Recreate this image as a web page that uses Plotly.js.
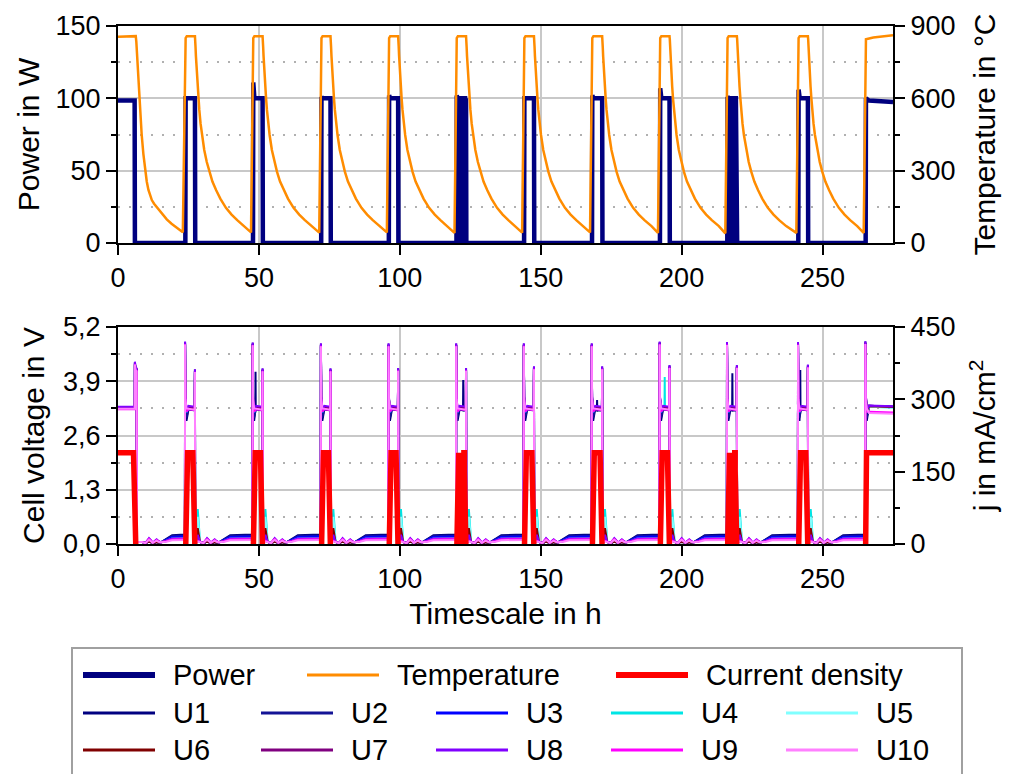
<!DOCTYPE html>
<html><head><meta charset="utf-8">
<script src="https://cdn.plot.ly/plotly-3.0.1.min.js"></script>
<style>html,body{margin:0;padding:0;background:#fff;}#chart{width:1013px;height:774px;}</style>
</head><body><div id="chart"></div>
<script>
// ===================== DATA =====================
// Cycle switching times (h)
const cycleOn  = [23.8, 47.8, 72.0, 96.0, 120.0, 144.0, 168.1, 192.2, 216.1, 241.3, 265.2];
const cycleOff = [27.3, 51.3, 75.4, 99.4, 123.5, 147.6, 171.8, 195.7, 219.6, 244.8];
const denseCycleIndex  = [4, 8];
const denseToggleDelta = [0.8, 1.1, 1.4, 1.7, 2.0, 2.3, 2.6, 2.9, 3.2];

// Temperature (°C)
const tempStartHours  = [0, 3.0, 6.3];
const tempStartValues = [855, 857, 858];
const tempFirstDecayHours  = [6.5, 6.7, 6.9, 7.1, 7.4, 7.9, 8.4, 9.0, 9.6, 10.2, 10.8, 11.4, 12.0, 12.8, 13.7, 15.5, 17.3, 19.0, 20.8, 23.0];
const tempFirstDecayValues = [835, 790, 745, 695, 625, 530, 450, 370, 300, 255, 220, 195, 178, 163, 150, 122, 98, 80, 65, 45];
const tempHoldValue    = 858;
const tempRiseTopValue = 850;
const tempDecayDelta   = [0.1, 0.2, 0.35, 0.6, 0.95, 1.25, 1.55, 2.0, 2.5, 3.3, 4.2, 5.1, 6.2, 7.5, 9.0, 11.0, 13.0, 15.0, 17.5];
const tempDecayValues  = [845, 815, 775, 715, 648, 598, 552, 495, 448, 386, 336, 296, 255, 220, 184, 146, 118, 95, 70];
const tempMinValues    = [44, 43, 44, 42, 43, 44, 42, 40, 42, 42];
const tempEndHours  = [265.4, 268, 275];
const tempEndValues = [845, 852, 862];

// Power (W)
const powerStartHours  = [0, 5.9, 6.0];
const powerStartValues = [98.5, 98.5, 0];
const powerHoldValue   = 100;
const powerPeakValues  = [100, 111, 101, 102, 102, 100, 102, 107, 101, 106];
const powerEndHours  = [265.3, 265.4, 266.5, 275];
const powerEndValues = [0, 100, 98.5, 97.5];

// Current density (mA/cm²)
const currentHoldValue   = 189;
const currentStartHours  = [0, 5.5, 6.3];
const currentStartValues = [189, 189, 0];
const currentEndHours  = [265.3, 265.6, 275];
const currentEndValues = [0, 189, 189];

// Cell voltages (V)
const uNames      = ['U1','U2','U3','U4','U5','U6','U7','U8','U9','U10'];
const uStartLevel = [3.27, 3.27, 3.26, 3.25, 3.25, 3.26, 3.27, 3.29, 3.23, 3.24];
const uOnLevel    = [3.20, 3.23, 3.25, 3.24, 3.24, 3.25, 3.27, 3.29, 3.21, 3.22];
const uDipLevel   = [2.95, 3.03, 3.15, 3.16, 3.18, 3.18, 3.20, 3.22, 3.17, 3.25];
const uEndLevel   = [3.29, 3.29, 3.28, 3.27, 3.27, 3.28, 3.29, 3.30, 3.15, 3.12];
const uSpikeShift = [0.03, 0.00, -0.01, -0.05, -0.05, -0.04, 0.00, 0.04, -0.02, -0.03];
const uShutSpike  = [0.10, 0.10, 0.12, 0.84, 0.65, 0.38, 0.15, 0.22, 0.08, 0.06];
const uHump       = [0.06, 0.06, 0.07, 0.08, 0.08, 0.06, 0.12, 0.14, 0.12, 0.10];
const uRestLevel  = [0.21, 0.19, 0.17, 0.13, 0.12, 0.11, 0.12, 0.13, 0.11, 0.09];
const voltSpikeOn  = [4.81, 4.79, 4.77, 4.77, 4.77, 4.77, 4.77, 4.81, 4.80, 4.80, 4.82];
const voltSpikeOff = [4.15, 4.17, 4.17, 4.18, 4.18, 4.22, 4.22, 4.25, 4.25, 4.26];
const voltInitialHours  = [6.0, 6.2, 6.6, 6.7];
const voltInitialValues = [4.33, 4.20, 4.17, 0.05];
const u1MidSpikeHours  = [48.8, 122.5, 170.0, 218.0, 242.1];
const u1MidSpikeValues = [4.13, 3.93, 3.45, 4.09, 4.17];
const u4MidSpikeHours  = [194.0];
const u4MidSpikeValues = [4.0];
const restDelta = [0.5, 1.0, 1.8, 3.0, 3.7, 4.3, 4.9, 5.6, 6.4, 7.0, 7.6, 8.5, 10.5, 12.5];

// Axis tick labels
const timeTicks = [0, 50, 100, 150, 200, 250];
const voltTickVals = [0, 1.3, 2.6, 3.9, 5.2];
const voltTickText = ['0,0', '1,3', '2,6', '3,9', '5,2'];

// ===================== BUILD SERIES =====================
function tempSeries() {
  const x = [], y = [];
  const P = (t, v) => { x.push(t); y.push(v); };
  tempStartHours.forEach((h, i) => P(h, tempStartValues[i]));
  tempFirstDecayHours.forEach((h, i) => P(h, tempFirstDecayValues[i]));
  for (let k = 0; k < cycleOff.length; k++) {
    P(cycleOn[k] + 0.2, tempRiseTopValue);
    P(cycleOn[k] + 0.6, tempHoldValue);
    P(cycleOff[k], tempHoldValue);
    tempDecayDelta.forEach((d, i) => P(cycleOff[k] + d, tempDecayValues[i]));
    P(cycleOn[k + 1] - 0.6, tempMinValues[k]);
  }
  tempEndHours.forEach((h, i) => P(h, tempEndValues[i]));
  return {x, y};
}

function powerSeries() {
  const x = [], y = [];
  const P = (t, v) => { x.push(t); y.push(v); };
  powerStartHours.forEach((h, i) => P(h, powerStartValues[i]));
  for (let k = 0; k < cycleOff.length; k++) {
    const on = cycleOn[k], off = cycleOff[k];
    P(on + 0.1, 0); P(on + 0.2, powerPeakValues[k]); P(on + 0.6, powerHoldValue);
    if (denseCycleIndex.includes(k)) {
      denseToggleDelta.forEach(d => { P(on + d - 0.05, powerHoldValue); P(on + d, 0); P(on + d + 0.05, powerHoldValue); });
    }
    P(off, powerHoldValue); P(off + 0.1, 0);
  }
  powerEndHours.forEach((h, i) => P(h, powerEndValues[i]));
  return {x, y};
}

function currentSeries() {
  const x = [], y = [];
  const P = (t, v) => { x.push(t); y.push(v); };
  currentStartHours.forEach((h, i) => P(h, currentStartValues[i]));
  P(6.4, null);
  for (let k = 0; k < cycleOff.length; k++) {
    const on = cycleOn[k], off = cycleOff[k];
    P(on + 0.25, 0); P(on + 0.9, currentHoldValue);
    if (denseCycleIndex.includes(k)) {
      denseToggleDelta.slice(0, 7).forEach(d => { P(on + d + 0.1, currentHoldValue); P(on + d + 0.2, 0); P(on + d + 0.3, currentHoldValue); });
    }
    P(off - 0.75, currentHoldValue); P(off - 0.05, 0); P(off + 0.1, null);
  }
  currentEndHours.forEach((h, i) => P(h, currentEndValues[i]));
  return {x, y};
}

function voltSeries(i) {
  const pts = [];
  const P = (t, v) => pts.push([t, v]);
  const rest = (off, nextOn, withSpike) => {
    const r = uRestLevel[i], h = uHump[i];
    const vals = [0.05, withSpike ? uShutSpike[i] : 0.05, 0.05, 0.02, h * 0.7, h, h * 0.7, 0.03, h * 0.55, h * 0.8, h * 0.55, 0.04, r * 0.6, r];
    restDelta.forEach((d, j) => P(off + d, vals[j]));
    P(nextOn - 0.05, r * 1.08);
  };
  P(0, uStartLevel[i]); P(5.95, uStartLevel[i]);
  voltInitialHours.forEach((hh, j) => P(hh, j < 3 ? voltInitialValues[j] + uSpikeShift[i] : voltInitialValues[j]));
  rest(6.7, cycleOn[0], false);
  for (let k = 0; k < cycleOff.length; k++) {
    const on = cycleOn[k], off = cycleOff[k];
    P(on, voltSpikeOn[k] + uSpikeShift[i]);
    P(on + 0.12, uOnLevel[i] + 0.25);
    P(on + 0.5, uDipLevel[i]);
    P(on + 1.2, uOnLevel[i] + 0.02);
    P(off - 0.08, uOnLevel[i]);
    P(off, voltSpikeOff[k] + uSpikeShift[i]);
    P(off + 0.08, 0.04);
    rest(off, cycleOn[k + 1], true);
  }
  const on = cycleOn[cycleOn.length - 1];
  P(on, voltSpikeOn[cycleOn.length - 1] + uSpikeShift[i]);
  P(on + 0.15, uEndLevel[i] + 0.3);
  P(on + 0.5, uDipLevel[i]);
  P(on + 1.3, uEndLevel[i] + 0.02);
  P(275, uEndLevel[i]);
  const addSpikes = (hours, vals) => hours.forEach((hh, j) => { P(hh - 0.08, uOnLevel[i]); P(hh, vals[j]); P(hh + 0.08, uOnLevel[i]); });
  if (i === 0) addSpikes(u1MidSpikeHours, u1MidSpikeValues);
  if (i === 3) addSpikes(u4MidSpikeHours, u4MidSpikeValues);
  pts.sort((a, b) => a[0] - b[0]);
  return {x: pts.map(p => p[0]), y: pts.map(p => p[1])};
}

// ===================== STYLE =====================
const FONT = 'Arial, "Liberation Sans", sans-serif';
const uColors = ['#000080', '#141496', '#0000ff', '#00e5e5', '#80ffff', '#800000', '#800080', '#8000ff', '#ff00ff', '#ff80ff'];
const powerColor = '#00007f', tempColor = '#ff8c00', currentColor = '#ff0000';

const T = tempSeries(), Pw = powerSeries(), C = currentSeries();
const traces = [];
traces.push({x: Pw.x, y: Pw.y, name: 'Power', type: 'scatter', mode: 'lines', xaxis: 'x', yaxis: 'y',
  line: {color: powerColor, width: 4.5}, showlegend: false});
traces.push({x: T.x, y: T.y, name: 'Temperature', type: 'scatter', mode: 'lines', xaxis: 'x', yaxis: 'y2',
  line: {color: tempColor, width: 2.5}, showlegend: false});
uNames.forEach((n, i) => {
  const s = voltSeries(i);
  traces.push({x: s.x, y: s.y, name: n, type: 'scatter', mode: 'lines', xaxis: 'x2', yaxis: 'y3',
    line: {color: uColors[i], width: 2}, showlegend: false});
});
traces.push({x: C.x, y: C.y, name: 'Current density', type: 'scatter', mode: 'lines', xaxis: 'x2', yaxis: 'y4',
  line: {color: currentColor, width: 5.5}, connectgaps: false, showlegend: false});

const L = 118, R = 893, TOP = 26, BOT = 544, W = R - L, H = BOT - TOP;
const px = v => (v - L) / W, py = v => (BOT - v) / H;

const gridMajor = {showgrid: true, gridcolor: '#c8c8c8', gridwidth: 2};
const tickBase = {ticks: 'outside', ticklen: 10, tickwidth: 2, tickcolor: '#000', showline: true, linecolor: '#000', linewidth: 2,
  tickfont: {family: FONT, size: 27, color: '#000'}, zeroline: false};
const minorDot = (dt) => ({dtick: dt, ticks: 'outside', ticklen: 5, tickwidth: 2, tickcolor: '#000',
  showgrid: true, gridcolor: '#b0b0b0', griddash: '2px,9px', gridwidth: 2});
const minorTick = (dt) => ({dtick: dt, ticks: 'outside', ticklen: 5, tickwidth: 2, tickcolor: '#000', showgrid: false});
const titleFont = {family: FONT, size: 30, color: '#000'};

const yTop = [py(243), 1], yBot = [0, py(327)];

// manual legend (line samples + text)
const shapes = [{type: 'rect', xref: 'paper', yref: 'paper', x0: px(72), x1: px(962), y0: py(648), y1: py(800),
  line: {color: '#a0a0a0', width: 2}, fillcolor: 'rgba(0,0,0,0)'}];
const annotations = [];
function legendItem(name, color, width, x0, yc) {
  shapes.push({type: 'line', xref: 'paper', yref: 'paper', x0: px(x0), x1: px(x0 + 72), y0: py(yc), y1: py(yc),
    line: {color: color, width: width}});
  annotations.push({xref: 'paper', yref: 'paper', x: px(x0 + 88), y: py(yc), xanchor: 'left', yanchor: 'middle',
    text: name, showarrow: false, font: {family: FONT, size: 29, color: '#000'}});
}
legendItem('Power', powerColor, 6, 83, 675);
legendItem('Temperature', tempColor, 3, 307, 675);
legendItem('Current density', currentColor, 6, 616, 675);
const colX = [83, 261, 436, 611, 786];
uNames.forEach((n, i) => legendItem(n, uColors[i], 3, colX[i % 5], i < 5 ? 713 : 750));

const layout = {
  width: 1013, height: 774,
  margin: {l: L, r: 1013 - R, t: TOP, b: 774 - BOT, pad: 0},
  paper_bgcolor: '#fff', plot_bgcolor: '#fff',
  showlegend: false,
  xaxis: Object.assign({}, tickBase, gridMajor, {domain: [0, 1], anchor: 'y', range: [0, 275], tickvals: timeTicks, mirror: true}),
  yaxis: Object.assign({}, tickBase, gridMajor, {domain: yTop, anchor: 'x', range: [0, 150], tickvals: [0, 50, 100, 150],
    minor: minorDot(25), title: {text: 'Power in W', font: titleFont, standoff: 7}}),
  yaxis2: Object.assign({}, tickBase, {overlaying: 'y', side: 'right', anchor: 'x', range: [0, 900], tickvals: [0, 300, 600, 900],
    showgrid: false, minor: minorTick(150), title: {text: 'Temperature in °C', font: titleFont, standoff: 20}}),
  xaxis2: Object.assign({}, tickBase, gridMajor, {domain: [0, 1], anchor: 'y3', range: [0, 275], tickvals: timeTicks, mirror: true,
    title: {text: 'Timescale in h', font: titleFont, standoff: 10}}),
  yaxis3: Object.assign({}, tickBase, gridMajor, {domain: yBot, anchor: 'x2', range: [0, 5.2], tickvals: voltTickVals, ticktext: voltTickText,
    minor: Object.assign(minorDot(0.65), {tick0: 0}), title: {text: 'Cell voltage in V', font: titleFont, standoff: 10}}),
  yaxis4: Object.assign({}, tickBase, {overlaying: 'y3', side: 'right', anchor: 'x2', range: [0, 450], tickvals: [0, 150, 300, 450],
    showgrid: false, minor: minorTick(75), title: {text: 'j in mA/cm<sup>2</sup>', font: titleFont, standoff: 20}}),
  shapes: shapes,
  annotations: annotations
};

Plotly.newPlot('chart', traces, layout, {staticPlot: true, displayModeBar: false});
</script></body></html>
